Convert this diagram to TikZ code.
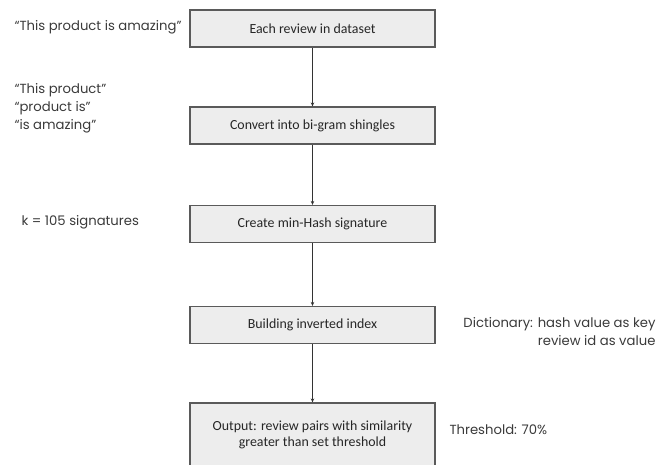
\documentclass[tikz,border=0pt]{standalone}
\usepackage{fontspec}
\setmainfont{Carlito}
\newfontfamily\gothic{Poppins}
\usetikzlibrary{arrows.meta}

\definecolor{boxfill}{HTML}{EDEDED}
\definecolor{boxline}{HTML}{5A5A5A}
\definecolor{sidetext}{HTML}{3A3A3A}

\tikzset{
  stage/.style={draw=boxline, line width=1.2pt, fill=boxfill, minimum width=245pt, minimum height=37pt,
    font=\fontsize{13.9}{16}\selectfont, text=black!85, align=center},
  remark/.style={font=\gothic\fontsize{13.2}{18}\selectfont, text=sidetext},
  flow/.style={-{Stealth[length=4pt,width=3.5pt]}, line width=0.7pt, draw=black!80}
}

\begin{document}
\begin{tikzpicture}[x=1pt,y=-1pt]
\useasboundingbox (0,0) rectangle (662,464);
\clip (0,0) rectangle (662,464);
% pipeline
\node[stage] (each) at (312.5,28.5) {Each review in dataset};
\node[stage] (shingles) at (312.5,125.5) {Convert into bi-gram shingles};
\node[stage] (minhash) at (312.5,224) {Create min-Hash signature};
\node[stage] (index) at (312.5,325) {Building inverted index};
\node[stage, minimum height=64pt] (output) at (312.5,435) {Output: review pairs with similarity\\greater than set threshold};
\draw[flow] (each.south) -- (shingles.north);
\draw[flow] (shingles.south) -- (minhash.north);
\draw[flow] (minhash.south) -- (index.north);
\draw[flow] (index.south) -- (output.north);
% notes
\node[remark, anchor=west] (sentence) at (11,27) {“This product is amazing”};
\node[remark, anchor=north west, align=left] (grams) at (11,80) {“This product”\\“product is”\\“is amazing”};
\node[remark, anchor=west] (sigs) at (18,222) {k = 105 signatures};
\node[remark, anchor=east, align=right] (dict) at (659,332) {Dictionary: hash value as key\\review id as value};
\node[remark, anchor=west] (thresh) at (446,430) {Threshold: 70\%};
\end{tikzpicture}
\end{document}
